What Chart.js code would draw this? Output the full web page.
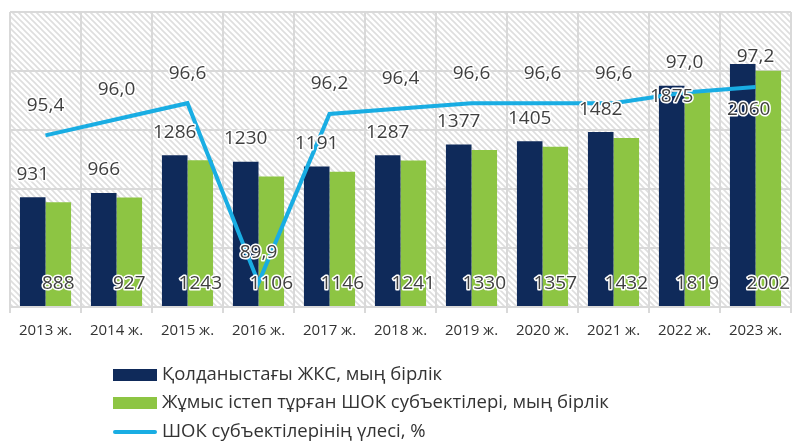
<!DOCTYPE html>
<html>
<head>
<meta charset="utf-8">
<script src="https://cdn.jsdelivr.net/npm/chart.js@4/dist/chart.umd.min.js"></script>
<style>
html,body{margin:0;padding:0;background:#fff;}
#wrap{position:relative;width:795px;height:442px;}
</style>
</head>
<body>
<div id="wrap"><canvas id="c" width="795" height="442"></canvas></div>
<script>
const categories = ['2013 ж.','2014 ж.','2015 ж.','2016 ж.','2017 ж.','2018 ж.','2019 ж.','2020 ж.','2021 ж.','2022 ж.','2023 ж.'];
const activeEntities = [931, 966, 1286, 1230, 1191, 1287, 1377, 1405, 1482, 1875, 2060];
const operatingSME = [888, 927, 1243, 1106, 1146, 1241, 1330, 1357, 1432, 1819, 2002];
const smeShare = [95.4, 96.0, 96.6, 89.9, 96.2, 96.4, 96.6, 96.6, 96.6, 97.0, 97.2];
const seriesNames = ['Қолданыстағы ЖКС, мың бірлік','Жұмыс істеп тұрған ШОК субъектілері, мың бірлік','ШОК субъектілерінің үлесі, %'];

const NAVY = '#0f2a5a', GREEN = '#8dc543', BLUE = '#19ade3', TEXT = '#404040';
const FONT = '"Open Sans", sans-serif';

function makeHatch(){
  const s = 6, p = document.createElement('canvas');
  p.width = s; p.height = s;
  const g = p.getContext('2d');
  g.fillStyle = '#fff'; g.fillRect(0,0,s,s);
  g.strokeStyle = '#dedede'; g.lineWidth = 1.6;
  g.beginPath();
  g.moveTo(-1,-1); g.lineTo(s+1,s+1);
  g.moveTo(-1,s-1); g.lineTo(1,s+1);
  g.moveTo(s-1,-1); g.lineTo(s+1,1);
  g.stroke();
  return p;
}

const bgPlugin = {
  id:'bg',
  beforeDraw(chart){
    const {ctx, chartArea:a} = chart;
    ctx.save();
    ctx.fillStyle = ctx.createPattern(makeHatch(),'repeat');
    ctx.fillRect(a.left, a.top, a.right-a.left, a.bottom-a.top);
    ctx.restore();
  }
};

function outlinedText(ctx, txt, x, y){
  ctx.lineWidth = 3; ctx.strokeStyle = '#fff'; ctx.lineJoin='round';
  ctx.strokeText(txt, x, y);
  ctx.fillStyle = TEXT;
  ctx.fillText(txt, x, y);
}

const labelPlugin = {
  id:'labels',
  afterDatasetsDraw(chart){
    const ctx = chart.ctx;
    const a = chart.chartArea;
    ctx.save();
    ctx.font = '19px ' + FONT;
    ctx.textAlign = 'center'; ctx.textBaseline = 'middle';
    const navyShift = {9: 11, 10: 46};
    chart.getDatasetMeta(0).data.forEach((el,i)=>{
      const dy = (i in navyShift) ? navyShift[i] : -23;
      outlinedText(ctx, String(activeEntities[i]), el.x + (i===10?6:0), el.y + dy);
    });
    chart.getDatasetMeta(1).data.forEach((el,i)=>{
      outlinedText(ctx, String(operatingSME[i]), el.x, a.bottom - 23);
    });
    chart.getDatasetMeta(2).data.forEach((el,i)=>{
      outlinedText(ctx, smeShare[i].toFixed(1).replace('.',','), el.x, el.y - 30);
    });
    ctx.restore();
  }
};

const legendPlugin = {
  id:'legendCol',
  afterDraw(chart){
    const ctx = chart.ctx;
    ctx.save();
    const x0 = 113, w = 44, tx = 162;
    const rows = [375, 403, 432];
    ctx.font = '18.5px ' + FONT;
    ctx.textBaseline = 'middle'; ctx.textAlign = 'left';
    ctx.fillStyle = NAVY; ctx.fillRect(x0, rows[0]-6, w, 12);
    ctx.fillStyle = GREEN; ctx.fillRect(x0, rows[1]-6, w, 12);
    ctx.strokeStyle = BLUE; ctx.lineWidth = 4; ctx.lineCap='round';
    ctx.beginPath(); ctx.moveTo(x0+2, rows[2]); ctx.lineTo(x0+w-2, rows[2]); ctx.stroke();
    ctx.fillStyle = '#333';
    seriesNames.forEach((n,i)=> ctx.fillText(n, tx, rows[i]));
    ctx.restore();
  }
};

new Chart(document.getElementById('c'), {
  data:{
    labels: categories,
    datasets:[
      {type:'bar', label:seriesNames[0], data:activeEntities, backgroundColor:NAVY, yAxisID:'y', order:2, categoryPercentage:0.72, barPercentage:1},
      {type:'bar', label:seriesNames[1], data:operatingSME, backgroundColor:GREEN, yAxisID:'y', order:3, categoryPercentage:0.72, barPercentage:1},
      {type:'line', label:seriesNames[2], data:smeShare, borderColor:BLUE, borderWidth:4, pointRadius:0, yAxisID:'y1', order:0, tension:0}
    ]
  },
  options:{
    responsive:false, animation:false,
    layout:{padding:{left:10, right:4, top:12, bottom:93}},
    plugins:{legend:{display:false}, tooltip:{enabled:false}},
    scales:{
      x:{
        grid:{color:'#d9d9d9', lineWidth:2, offset:true, tickLength:6, drawTicks:true},
        border:{color:'#d9d9d9', width:2},
        ticks:{color:'#333', font:{family:FONT, size:15}, padding:9, maxRotation:0}
      },
      y:{
        min:0, max:2500,
        ticks:{display:false, stepSize:500},
        grid:{color:'#d9d9d9', lineWidth:2, drawTicks:false},
        border:{display:false}
      },
      y1:{
        display:false, position:'right', min:89, max:100
      }
    }
  },
  plugins:[bgPlugin, labelPlugin, legendPlugin]
});
</script>
</body>
</html>
